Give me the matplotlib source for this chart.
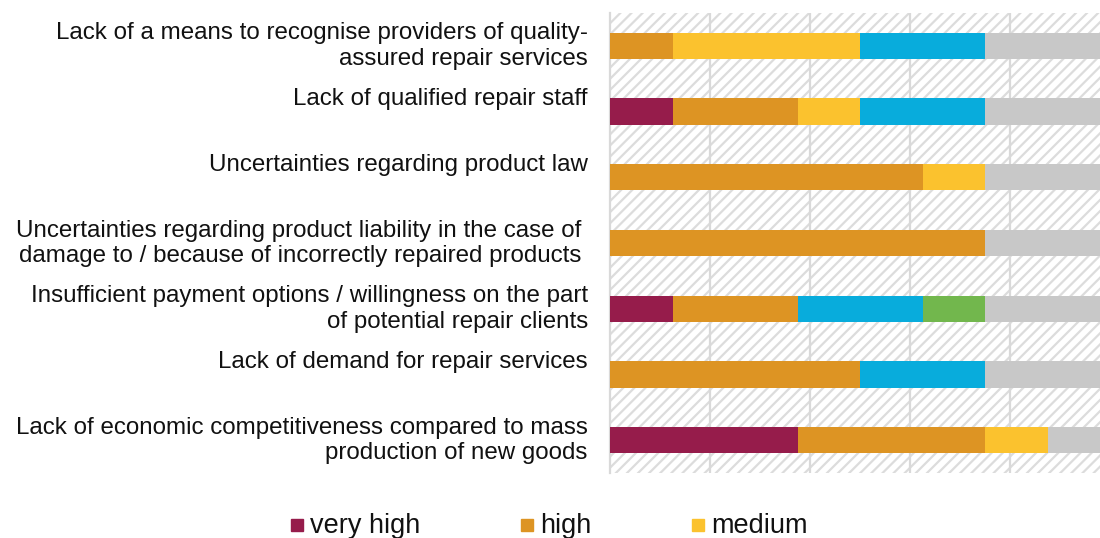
import matplotlib.pyplot as plt
import matplotlib.transforms as mtransforms
from matplotlib.patches import Rectangle

plt.rcParams['font.family'] = ['Liberation Sans', 'DejaVu Sans']

# barriers (top to bottom), single-line labels carry an empty second line like the original
categories = [
    "Lack of a means to recognise providers of quality-\nassured repair services",
    "Lack of qualified repair staff\n ",
    "Uncertainties regarding product law\n ",
    "Uncertainties regarding product liability in the case of \ndamage to / because of incorrectly repaired products ",
    "Insufficient payment options / willingness on the part\nof potential repair clients",
    "Lack of demand for repair services\n ",
    "Lack of economic competitiveness compared to mass\nproduction of new goods",
]

# share of answers in %
very_high = [0, 12.5, 0, 0, 12.5, 0, 37.5]
high = [12.5, 25, 62.5, 75, 25, 50, 37.5]
medium = [37.5, 12.5, 12.5, 0, 0, 0, 12.5]
low = [25, 25, 0, 0, 25, 25, 0]
very_low = [0, 0, 0, 0, 12.5, 0, 0]
no_answer = [25, 25, 25, 25, 25, 25, 12.5]

series = [
    ("very high", very_high, "#961C4B"),
    ("high", high, "#DD9423"),
    ("medium", medium, "#FBC22E"),
    ("low", low, "#08ACDC"),
    ("very low", very_low, "#72B74D"),
    ("no answer", no_answer, "#C8C8C8"),
]

fig = plt.figure(figsize=(11, 5.38), dpi=100)
ax = fig.add_axes([610 / 1100, 65 / 538, 500 / 1100, 460 / 538])

# hatched plot background
plt.rcParams['hatch.color'] = '#DCDCDC'
plt.rcParams['hatch.linewidth'] = 1.6
ax.add_patch(Rectangle((0, 0), 1, 1, transform=ax.transAxes, facecolor='white',
                       edgecolor='#DCDCDC', hatch='///', lw=0, zorder=0))

ypos = list(range(len(categories)))
left = [0] * len(categories)
for name, vals, col in series:
    ax.barh(ypos, vals, left=left, height=0.4, color=col, zorder=3, label=name)
    left = [a + b for a, b in zip(left, vals)]

ax.set_xlim(0, 100)
ax.set_ylim(len(categories) - 0.5, -0.5)
ax.set_xticks([20, 40, 60, 80])
ax.xaxis.grid(True, color='#D9D9D9', lw=1.6, zorder=1)
ax.set_axisbelow(True)
ax.tick_params(axis='x', length=0, labelbottom=False)
ax.set_yticks(ypos)
ax.set_yticklabels(categories, fontsize=17.4, color='#111111', linespacing=1.2)
ax.tick_params(axis='y', length=0, pad=16)
# labels sit a few pixels above the bar centres
shift = mtransforms.ScaledTranslation(0, 4 / 100, fig.dpi_scale_trans)
for lab in ax.get_yticklabels():
    lab.set_transform(lab.get_transform() + shift)
for s in ['top', 'right', 'bottom']:
    ax.spines[s].set_visible(False)
ax.spines['left'].set_color('#D9D9D9')
ax.spines['left'].set_linewidth(1.6)

# legend along the bottom; the rest of it lies past the right edge of the picture
leg_x = [291, 521, 692]
for (name, vals, col), x in zip(series, leg_x):
    fig.add_artist(Rectangle((x / 1100, 7 / 538), 12 / 1100, 12 / 538,
                             transform=fig.transFigure, color=col))
    fig.text((x + 19) / 1100, 12 / 538, name, fontsize=19.5, color='#111111',
             va='center', ha='left')

fig.savefig('out.png', dpi=100)
